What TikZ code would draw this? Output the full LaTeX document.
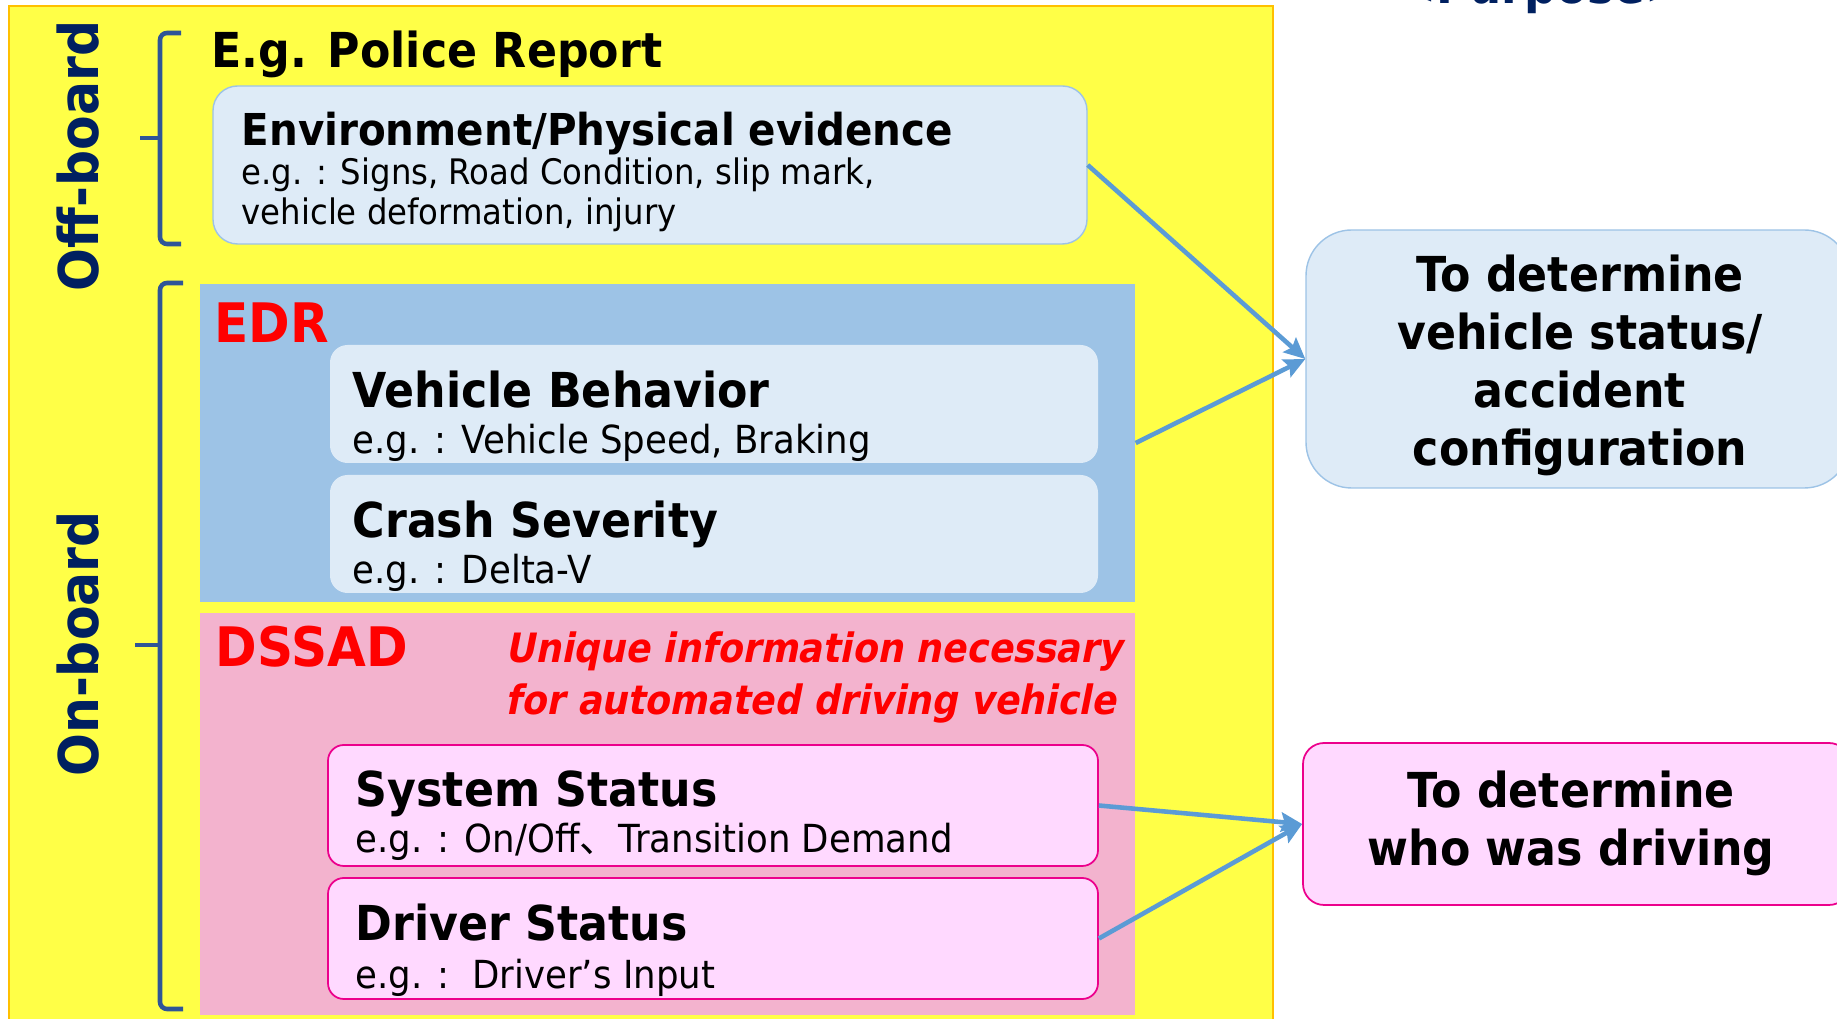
\documentclass[tikz,border=0pt]{standalone}
\usepackage{fontspec}
\setmainfont{DejaVu Sans}[FakeStretch=0.92]
\newfontfamily\cjk{Noto Sans CJK JP}
\newfontfamily\noteit{DejaVu Sans}[FakeStretch=0.9,FakeSlant=0.2]
\usetikzlibrary{arrows.meta,fit}
\definecolor{padyellow}{HTML}{FFFF47}
\definecolor{padgold}{HTML}{FFC000}
\definecolor{navy}{HTML}{002060}
\definecolor{braceblue}{HTML}{2F5597}
\definecolor{arrowblue}{HTML}{5B9BD5}
\definecolor{edgeblue}{HTML}{9DC3E6}
\definecolor{paleblue}{HTML}{DEEBF7}
\definecolor{edrblue}{HTML}{9DC3E6}
\definecolor{dssadpink}{HTML}{F3B3CE}
\definecolor{palepink}{HTML}{FFD9FF}
\begin{document}
\begin{tikzpicture}[x=0.1mm,y=-0.1mm,
  head/.style={anchor=base west,inner sep=0pt,font=\fontsize{13.7}{16}\selectfont\bfseries},
  note/.style={anchor=base west,inner sep=0pt,font=\fontsize{11}{13}\selectfont},
  tag/.style={anchor=base west,inner sep=0pt,text=red,font=\fontsize{15.5}{18}\selectfont\bfseries},
  uniq/.style={anchor=base west,inner sep=0pt,text=red,font=\noteit\bfseries\fontsize{11.5}{13}\selectfont},
  side/.style={rotate=90,inner sep=0pt,text=navy,font=\fontsize{15.6}{18}\selectfont\bfseries},
  purp/.style={align=center,inner sep=0pt,font=\fontsize{13.7}{16.5}\selectfont\bfseries},
  bluebox/.style={draw=edgeblue,fill=paleblue,rounded corners=7pt,inner sep=0pt,line width=0.4pt},
  subbox/.style={fill=paleblue,rounded corners=5pt,inner sep=0pt},
  pinkbox/.style={draw=magenta,fill=palepink,rounded corners=4.5pt,inner sep=0pt,line width=0.5pt},
  brace/.style={draw=braceblue,line width=1.3pt},
  arr/.style={draw=arrowblue,line width=1.3pt,-{Stealth[length=6pt,width=5.5pt,inset=1pt]}}]
\useasboundingbox (0,0) rectangle (1837,1019);
\fill[padyellow,draw=padgold,line width=0.6pt] (9,6) rectangle (1273,1030);

\node[anchor=base,inner sep=0pt,text=navy,font=\fontsize{14}{16}\selectfont\bfseries] (purpose) at (1541,4) {<Purpose>};

\draw[brace,rounded corners=2pt] (181,33) -- (160,33) -- (160,244) -- (181,244);
\draw[brace] (140,138) -- (160,138);
\draw[brace,rounded corners=2pt] (183,283) -- (160,283) -- (160,1009) -- (183,1009);
\draw[brace] (135,645) -- (160,645);
\node[side] (offb) at (78,156) {Off-board};
\node[side] (onb) at (78,644) {On-board};

\node[head] (police) at (211,68) {E.g. Police Report};
\node[bluebox,fit={(213,86)(1087,244)}] (env) {};
\node[head,font=\fontsize{12.5}{14}\selectfont\bfseries] (envh) at (241,146) {Environment/Physical evidence};
\node[note,font=\fontsize{10}{12}\selectfont] (envn1) at (241,185) {e.g. : Signs, Road Condition, slip mark,};
\node[note,font=\fontsize{10}{12}\selectfont] (envn2) at (241,225) {vehicle deformation, injury};

\node[fill=edrblue,inner sep=0pt,fit={(200,284)(1135,602)}] (edr) {};
\node[tag] (edrt) at (214,343) {EDR};
\node[subbox,fit={(330,345)(1098,463)}] (vb) {};
\node[head] (vbh) at (352,408) {Vehicle Behavior};
\node[note] (vbn) at (352,454) {e.g. : Vehicle Speed, Braking};
\node[subbox,fit={(330,475)(1098,593)}] (cs) {};
\node[head] (csh) at (352,538) {Crash Severity};
\node[note] (csn) at (352,584) {e.g. : Delta-V};

\node[fill=dssadpink,inner sep=0pt,fit={(200,613)(1135,1015)}] (dssad) {};
\node[tag] (dssadt) at (215,667) {DSSAD};
\node[uniq] (uniq1) at (505,663) {Unique information necessary};
\node[uniq] (uniq2) at (505,715) {for automated driving vehicle};
\node[pinkbox,fit={(328,745)(1098,866)}] (sys) {};
\node[head] (sysh) at (355,807) {System Status};
\node[note] (sysn) at (355,853) {e.g. : On/Off{\cjk 、}Transition Demand};
\node[pinkbox,fit={(328,878)(1098,999)}] (drv) {};
\node[head] (drvh) at (355,941) {Driver Status};
\node[note] (drvn) at (355,988) {e.g. :\ \ Driver’s Input};

\node[bluebox,rounded corners=13pt,fit={(1306,230)(1850,488)}] (vehpurp) {};
\node[purp] (vehpurpt) at (1580,365) {To determine\\vehicle status/\\accident\\configuration};
\node[pinkbox,rounded corners=6pt,fit={(1303,743)(1850,905)}] (drvpurp) {};
\node[purp] (drvpurpt) at (1571,823) {To determine\\who was driving};

\draw[arr] (env.east) -- (vehpurp.west);
\draw[arr] (edr.east) -- (vehpurp.west);
\draw[arr] (sys.east) -- (drvpurp.west);
\draw[arr] (drv.east) -- (drvpurp.west);
\end{tikzpicture}
\end{document}
